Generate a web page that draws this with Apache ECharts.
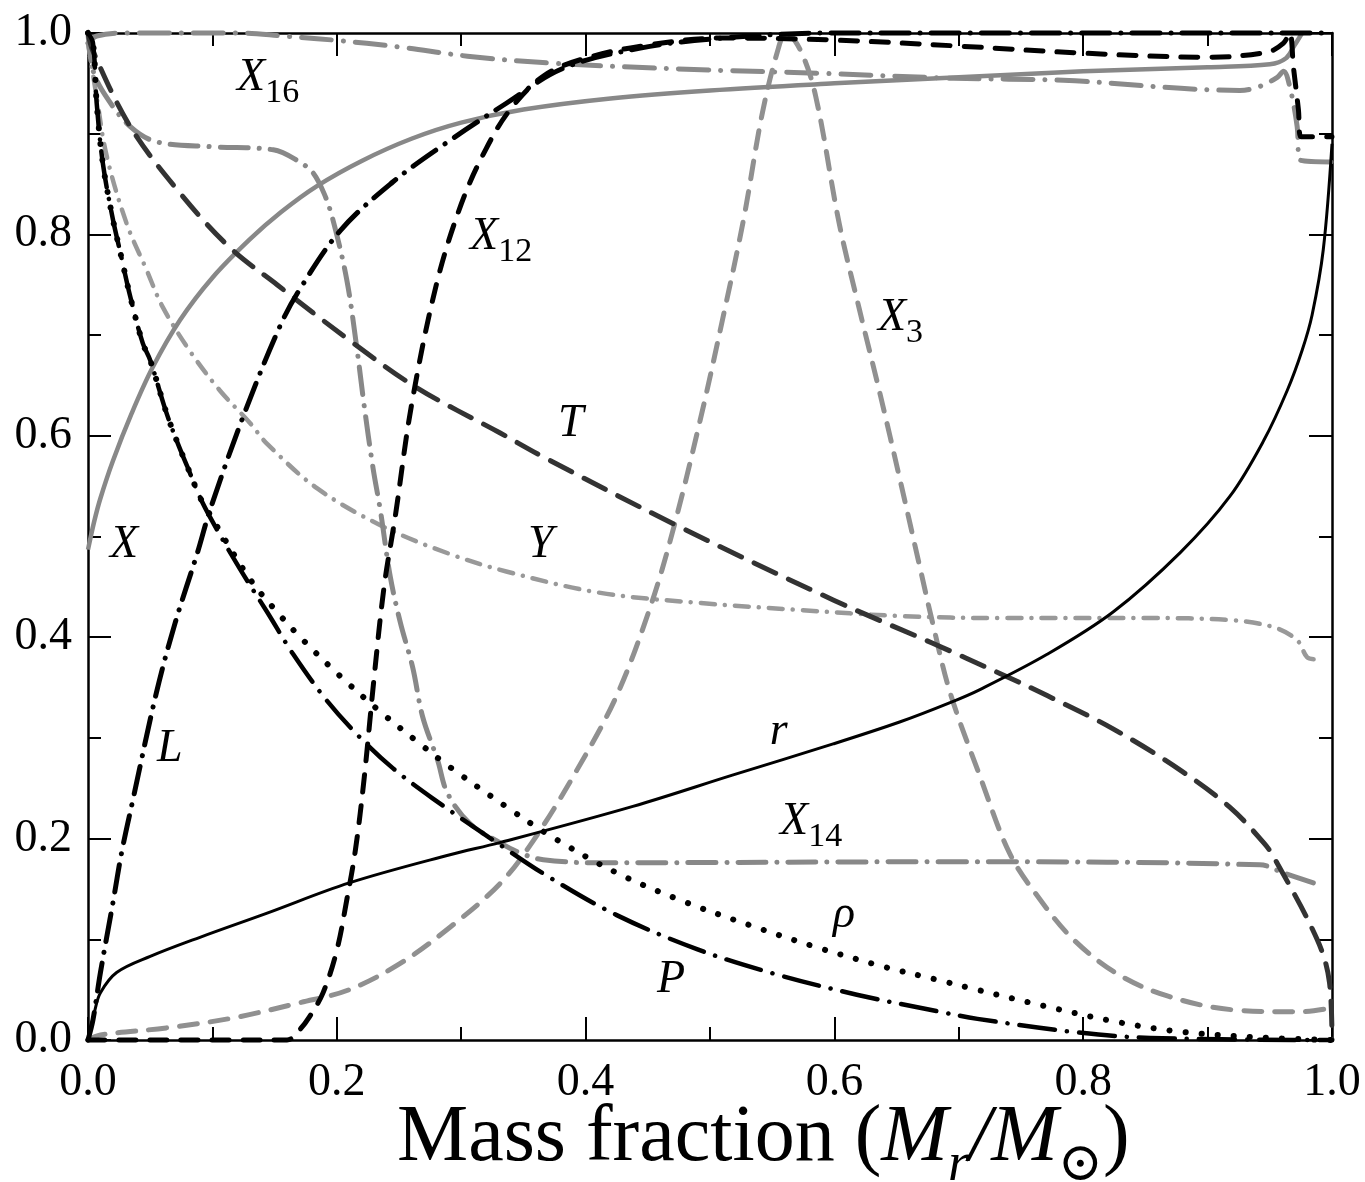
<!DOCTYPE html>
<html>
<head>
<meta charset="utf-8">
<title>Solar interior structure</title>
<script src="https://cdn.jsdelivr.net/npm/echarts/dist/echarts.min.js"></script>
<style>
  html, body { margin: 0; padding: 0; background: #fff; }
  #chart { width: 1365px; height: 1182px; }
</style>
</head>
<body>
<div id="chart"></div>
<script>
// Normalised profiles against mass fraction M_r / M_sun, each as [x, y] pairs.
const hydrogen = [[0,0.487],[0.005,0.515],[0.01,0.538],[0.02,0.575],[0.035,0.622],[0.052,0.668],[0.074,0.715],[0.1,0.757],[0.13,0.795],[0.155,0.822],[0.184,0.848],[0.22,0.873],[0.26,0.895],[0.3,0.911],[0.35,0.924],[0.42,0.935],[0.5,0.943],[0.6,0.95],[0.7,0.956],[0.8,0.962],[0.9,0.966],[0.95,0.969],[0.963,0.975],[0.97,0.988],[0.976,1.0]];
const helium = [[0,0.99],[0.007,0.936],[0.015,0.878],[0.031,0.811],[0.047,0.765],[0.06,0.728],[0.082,0.684],[0.106,0.645],[0.13,0.613],[0.144,0.592],[0.184,0.548],[0.237,0.51],[0.29,0.483],[0.337,0.465],[0.412,0.444],[0.492,0.434],[0.572,0.427],[0.653,0.421],[0.733,0.419],[0.851,0.419],[0.918,0.417],[0.953,0.41],[0.972,0.397],[0.98,0.38],[0.986,0.378]];
const temperature = [[0,1.0],[0.004,0.982],[0.034,0.907],[0.074,0.841],[0.114,0.787],[0.152,0.75],[0.21,0.695],[0.264,0.648],[0.331,0.603],[0.366,0.579],[0.47,0.513],[0.599,0.437],[0.679,0.394],[0.733,0.364],[0.771,0.342],[0.824,0.309],[0.878,0.268],[0.918,0.231],[0.945,0.196],[0.953,0.182],[0.988,0.1],[0.998,0.057],[1.0,0.0]];
const density = [[0,1.0],[0.004,0.99],[0.007,0.93],[0.012,0.87],[0.02,0.815],[0.026,0.782],[0.034,0.738],[0.044,0.692],[0.05,0.675],[0.063,0.623],[0.072,0.593],[0.08,0.569],[0.09,0.539],[0.096,0.526],[0.13,0.458],[0.152,0.425],[0.173,0.397],[0.203,0.361],[0.235,0.326],[0.267,0.294],[0.291,0.271],[0.337,0.231],[0.374,0.201],[0.425,0.166],[0.478,0.138],[0.532,0.114],[0.586,0.092],[0.639,0.073],[0.682,0.06],[0.711,0.051],[0.768,0.034],[0.827,0.018],[0.88,0.008],[0.95,0.002],[1.0,0.0]];
const pressure = [[0,1.0],[0.004,0.99],[0.007,0.93],[0.012,0.87],[0.02,0.815],[0.026,0.782],[0.034,0.738],[0.044,0.692],[0.05,0.675],[0.063,0.623],[0.072,0.593],[0.08,0.569],[0.09,0.539],[0.1,0.515],[0.122,0.468],[0.144,0.425],[0.165,0.383],[0.192,0.337],[0.219,0.3],[0.245,0.27],[0.277,0.24],[0.331,0.194],[0.369,0.163],[0.425,0.124],[0.49,0.09],[0.551,0.066],[0.618,0.045],[0.685,0.028],[0.715,0.021],[0.792,0.008],[0.854,0.002],[1.0,0.0]];
const luminosity = [[0,0],[0.004,0.02],[0.01,0.067],[0.02,0.136],[0.027,0.186],[0.036,0.238],[0.055,0.345],[0.07,0.414],[0.088,0.484],[0.098,0.526],[0.125,0.62],[0.154,0.708],[0.17,0.745],[0.203,0.804],[0.245,0.852],[0.287,0.89],[0.336,0.93],[0.382,0.965],[0.444,0.985],[0.51,0.995],[0.6,1.0],[1.0,1.0]];
const radius = [[0,0],[0.0056,0.03],[0.01,0.047],[0.023,0.067],[0.05,0.083],[0.09,0.102],[0.144,0.126],[0.21,0.156],[0.291,0.184],[0.331,0.196],[0.438,0.232],[0.518,0.263],[0.599,0.294],[0.653,0.316],[0.693,0.335],[0.717,0.348],[0.771,0.383],[0.824,0.425],[0.878,0.484],[0.918,0.54],[0.945,0.595],[0.964,0.645],[0.976,0.685],[0.984,0.72],[0.993,0.785],[1.0,0.89]];
const carbon12 = [[0,0],[0.16,0],[0.17,0.01],[0.178,0.023],[0.189,0.047],[0.2,0.089],[0.208,0.139],[0.215,0.189],[0.222,0.26],[0.23,0.36],[0.238,0.45],[0.247,0.52],[0.26,0.63],[0.28,0.75],[0.3,0.83],[0.32,0.885],[0.34,0.925],[0.367,0.958],[0.4,0.975],[0.45,0.988],[0.51,0.995],[0.6,0.993],[0.7,0.987],[0.8,0.98],[0.9,0.976],[0.948,0.981],[0.961,0.99],[0.966,1.0],[0.969,0.966],[0.973,0.924],[0.975,0.897],[1.0,0.897]];
const helium3 = [[0,0],[0.01,0.005],[0.063,0.012],[0.117,0.022],[0.17,0.037],[0.21,0.05],[0.251,0.076],[0.291,0.112],[0.331,0.155],[0.358,0.198],[0.393,0.268],[0.425,0.342],[0.452,0.43],[0.47,0.505],[0.492,0.615],[0.51,0.715],[0.527,0.815],[0.542,0.92],[0.555,0.985],[0.561,1.0],[0.573,0.982],[0.585,0.937],[0.604,0.81],[0.62,0.726],[0.637,0.64],[0.653,0.555],[0.669,0.468],[0.679,0.414],[0.693,0.345],[0.717,0.262],[0.741,0.185],[0.765,0.14],[0.792,0.1],[0.827,0.066],[0.867,0.044],[0.92,0.03],[0.974,0.028],[1.0,0.032]];
const nitrogen14 = [[0,1.0],[0.004,0.963],[0.015,0.936],[0.034,0.907],[0.055,0.892],[0.1,0.887],[0.149,0.884],[0.17,0.872],[0.181,0.861],[0.19,0.84],[0.197,0.814],[0.208,0.755],[0.216,0.688],[0.222,0.63],[0.229,0.569],[0.235,0.526],[0.243,0.46],[0.251,0.415],[0.261,0.37],[0.269,0.321],[0.281,0.278],[0.289,0.245],[0.307,0.215],[0.331,0.196],[0.347,0.186],[0.366,0.179],[0.412,0.176],[0.693,0.177],[0.942,0.174],[0.961,0.166],[0.985,0.156]];
const oxygen16 = [[0,0.99],[0.007,0.997],[0.03,1.0],[0.12,1.0],[0.157,0.997],[0.197,0.993],[0.251,0.986],[0.305,0.977],[0.373,0.97],[0.481,0.964],[0.588,0.96],[0.696,0.955],[0.784,0.953],[0.926,0.943],[0.942,0.947],[0.956,0.956],[0.961,0.962],[0.966,0.947],[0.972,0.907],[0.974,0.874],[1.0,0.872]];

const xTicks = [0, 0.2, 0.4, 0.6, 0.8, 1.0];
const yTicks = [0, 0.2, 0.4, 0.6, 0.8, 1.0];

// Curve annotations, anchored in data units (left edge, vertical middle of the letter).
const curveLabels = [
  { main: 'X', sub: '16', at: [0.1198, 0.9553] },
  { main: 'X', sub: '12', at: [0.3071, 0.7974] },
  { main: 'X', sub: '3',  at: [0.635, 0.717] },
  { main: 'T', at: [0.3778, 0.6117] },
  { main: 'Y', at: [0.3537, 0.4916] },
  { main: 'X', at: [0.0177, 0.4916] },
  { main: 'L', at: [0.0555, 0.289] },
  { main: 'r', at: [0.548, 0.3063] },
  { main: 'X', sub: '14', at: [0.5563, 0.2165] },
  { main: 'ρ', at: [0.5989, 0.1241] },
  { main: 'P', at: [0.4574, 0.0596] }
];

const SERIF = '"Liberation Serif", "Times New Roman", "DejaVu Serif", serif';
const chart = echarts.init(document.getElementById('chart'), null, { renderer: 'canvas' });

function curve(name, data, color, width, dash, z) {
  return {
    name, type: 'line', data, symbol: 'none', showSymbol: false,
    smooth: 0.35, clip: false, silent: true, z: z || 2,
    lineStyle: { color, width, type: dash || 'solid', cap: dash ? 'round' : 'butt', join: 'round' }
  };
}

function axisCommon(pos, showLabel, ticks) {
  return {
    type: 'value', min: 0, max: 1, interval: 0.2, position: pos,
    axisLine: { show: true, onZero: false, lineStyle: { color: '#000', width: 2.5 } },
    axisTick: { show: true, inside: true, length: 23, lineStyle: { color: '#000', width: 2 } },
    minorTick: { show: true, splitNumber: 2, length: 13, lineStyle: { color: '#000', width: 2 } },
    splitLine: { show: false },
    minorSplitLine: { show: false },
    axisLabel: {
      show: showLabel, fontFamily: SERIF, fontSize: 46, color: '#000',
      margin: (pos === 'bottom') ? 20 : 16,
      formatter: v => {
        const hit = ticks.find(t => Math.abs(t - v) < 1e-9);
        return hit === undefined ? '' : hit.toFixed(1);
      }
    }
  };
}

chart.setOption({
  animation: false,
  backgroundColor: '#fff',
  grid: { left: 88, right: 33, top: 33, bottom: 142, containLabel: false, outerBoundsMode: 'none' },
  xAxis: [axisCommon('bottom', true, xTicks), axisCommon('top', false, xTicks)],
  yAxis: [axisCommon('left', true, yTicks), axisCommon('right', false, yTicks)],
  series: [
    curve('Y', helium, '#999999', 4.5, [14, 10, 0.1, 10]),
    curve('X16', oxygen16, '#8a8a8a', 5, [30, 12, 0.1, 12]),
    curve('X14', nitrogen14, '#888888', 5, [28, 11, 0.1, 11]),
    curve('X3', helium3, '#909090', 5, [18, 13]),
    curve('X', hydrogen, '#888888', 4.5, null),
    curve('T', temperature, '#333333', 5, [24, 14], 3),
    curve('X12', carbon12, '#000000', 5, [17, 14], 4),
    curve('L', luminosity, '#000000', 5, [28, 11, 0.1, 11], 4),
    curve('P', pressure, '#000000', 4.5, [36, 12, 0.1, 12], 4),
    curve('rho', density, '#000000', 6, [0.1, 16], 4),
    curve('r', radius, '#000000', 3, null, 4)
  ]
});

// Text measuring for laying out italic symbols followed by subscripts.
const measureCtx = document.createElement('canvas').getContext('2d');
function textWidth(str, size, italic) {
  measureCtx.font = (italic ? 'italic ' : '') + size + 'px ' + SERIF;
  return measureCtx.measureText(str).width;
}
function piece(str, x, yMid, size, italic) {
  return {
    type: 'text', x, y: yMid, z: 10, silent: true,
    style: {
      text: str, fontFamily: SERIF, fontSize: size, fontStyle: italic ? 'italic' : 'normal',
      fill: '#000', align: 'left', verticalAlign: 'middle'
    }
  };
}

const graphics = [];
const LABEL_SIZE = 46, SUB_SIZE = 34, SUB_DROP = 15;
curveLabels.forEach(lb => {
  const p = chart.convertToPixel({ gridIndex: 0 }, lb.at);
  graphics.push(piece(lb.main, p[0], p[1], LABEL_SIZE, true));
  if (lb.sub) {
    const w = textWidth(lb.main, LABEL_SIZE, true);
    graphics.push(piece(lb.sub, p[0] + w, p[1] + SUB_DROP, SUB_SIZE, false));
  }
});

// Horizontal axis title: Mass fraction (M_r / M_sun), laid out piece by piece on one baseline.
const TITLE_SIZE = 80, TITLE_SUB = 54;
const titleBaseline = 1166;
const titleParts = [
  { s: 'Mass fraction (', size: TITLE_SIZE, italic: false, drop: 0 },
  { s: 'M', size: TITLE_SIZE, italic: true, drop: 0 },
  { s: 'r', size: TITLE_SUB, italic: true, drop: 18 },
  { s: '/', size: TITLE_SIZE, italic: true, drop: 0 },
  { s: 'M', size: TITLE_SIZE, italic: true, drop: 0 },
  { s: '⊙', size: TITLE_SUB, italic: false, drop: 18 },
  { s: ')', size: TITLE_SIZE, italic: false, drop: 0 }
];
let tx = 397;
titleParts.forEach(tp => {
  const yMid = titleBaseline + tp.drop - 0.34 * tp.size;
  graphics.push(piece(tp.s, tx, yMid, tp.size, tp.italic));
  tx += textWidth(tp.s, tp.size, tp.italic);
});

chart.setOption({ graphic: graphics });
</script>
</body>
</html>
